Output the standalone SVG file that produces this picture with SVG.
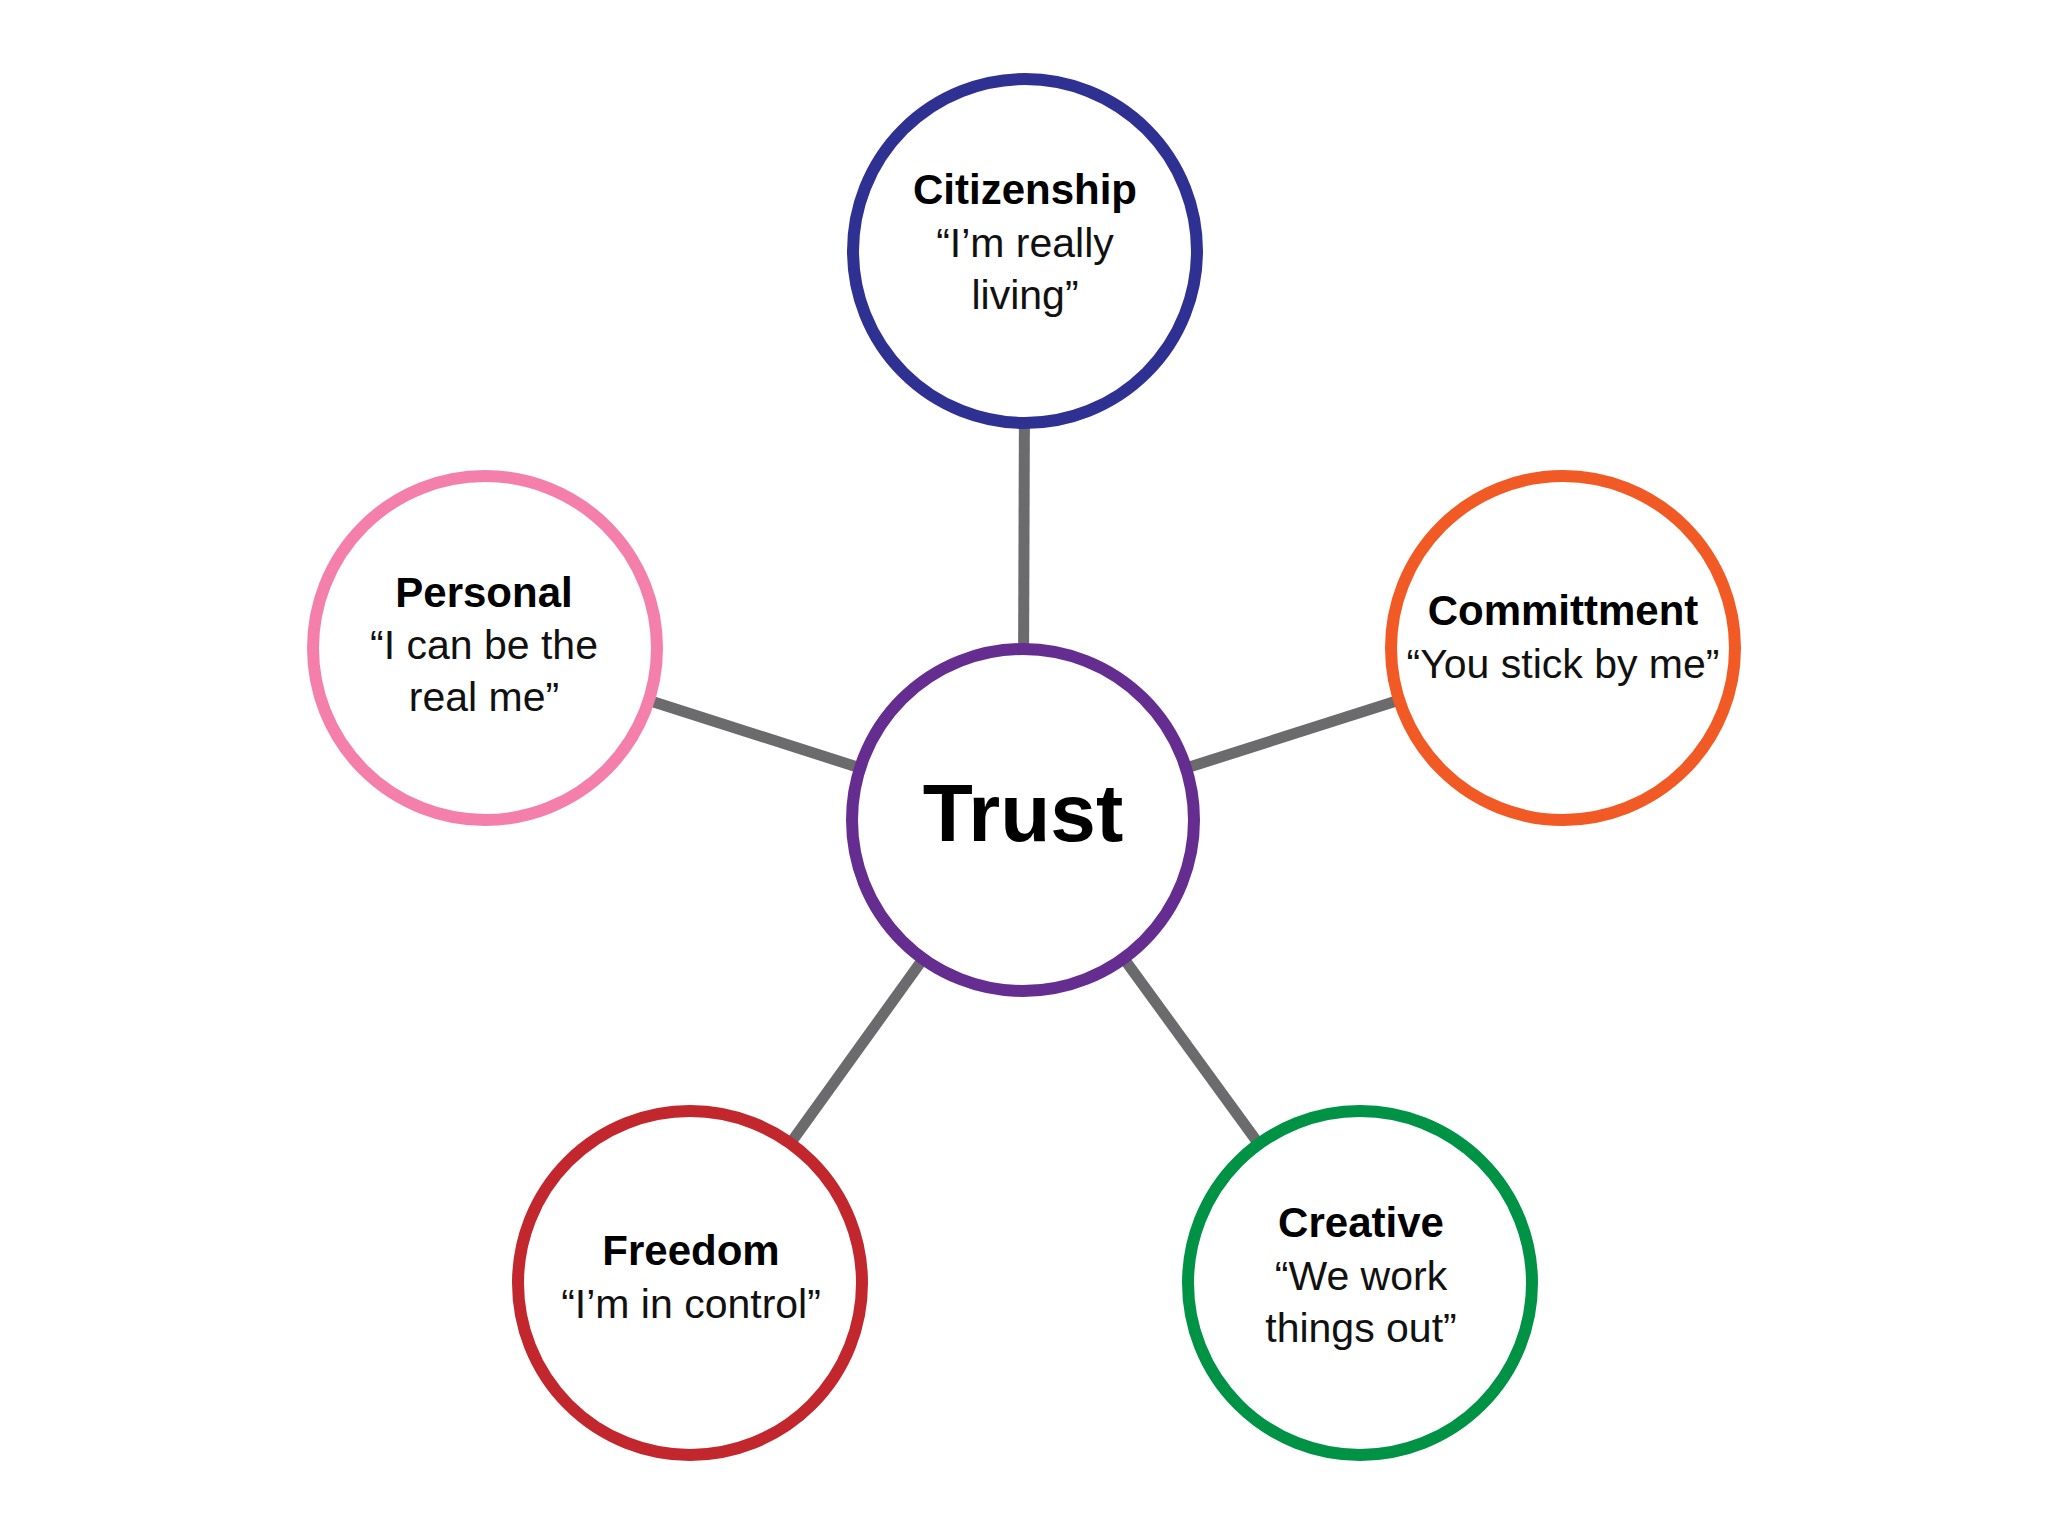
<svg xmlns="http://www.w3.org/2000/svg" width="2048" height="1536" viewBox="0 0 2048 1536">
<style>
.ring{fill:#ffffff;stroke-width:12}
.title{font-family:"Liberation Sans",Arial,sans-serif;font-weight:bold;font-size:42px;fill:#000;text-anchor:middle}
.quote{font-family:"Liberation Sans",Arial,sans-serif;font-size:41px;fill:#111;text-anchor:middle}
.big{font-family:"Liberation Sans",Arial,sans-serif;font-weight:bold;font-size:82px;fill:#000;text-anchor:middle}
.conn{stroke:#6b6a6c;stroke-width:11;fill:none}
</style>
<rect width="2048" height="1536" fill="#ffffff"/>
<g id="connectors">
<line class="conn" x1="1023" y1="820" x2="1025" y2="251"/>
<line class="conn" x1="1023" y1="820" x2="485" y2="648"/>
<line class="conn" x1="1023" y1="820" x2="1563" y2="648"/>
<line class="conn" x1="1023" y1="820" x2="690" y2="1283"/>
<line class="conn" x1="1023" y1="820" x2="1360" y2="1283"/>
</g>
<g id="citizenship">
<circle class="ring" cx="1025" cy="251" r="172" stroke="#2e3192"/>
<text class="title" x="1025" y="204">Citizenship</text>
<text class="quote" x="1025" y="257">“I’m really</text>
<text class="quote" x="1025" y="309">living”</text>
</g>
<g id="personal">
<circle class="ring" cx="485" cy="648" r="172" stroke="#f47fab"/>
<text class="title" x="484" y="607">Personal</text>
<text class="quote" x="484" y="659">“I can be the</text>
<text class="quote" x="484" y="711">real me”</text>
</g>
<g id="commitment">
<circle class="ring" cx="1563" cy="648" r="172" stroke="#f15a24"/>
<text class="title" x="1563" y="625">Committment</text>
<text class="quote" x="1563" y="678">“You stick by me”</text>
</g>
<g id="trust">
<circle class="ring" cx="1023" cy="820" r="171" stroke="#662d91" stroke-width="13"/>
<text class="big" x="1023" y="841">Trust</text>
</g>
<g id="freedom">
<circle class="ring" cx="690" cy="1283" r="172" stroke="#c1272d"/>
<text class="title" x="691" y="1265">Freedom</text>
<text class="quote" x="691" y="1318">“I’m in control”</text>
</g>
<g id="creative">
<circle class="ring" cx="1360" cy="1283" r="172" stroke="#009245"/>
<text class="title" x="1361" y="1237">Creative</text>
<text class="quote" x="1361" y="1290">“We work</text>
<text class="quote" x="1361" y="1342">things out”</text>
</g>
</svg>
